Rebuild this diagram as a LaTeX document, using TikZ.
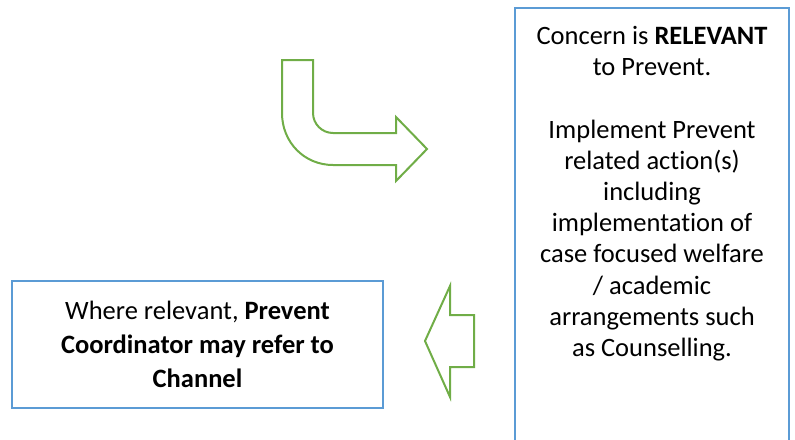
\documentclass[tikz,border=0pt]{standalone}
\usepackage{fontspec}
\setmainfont[Ligatures=NoCommon]{Carlito}
\usetikzlibrary{positioning}
\definecolor{boxblue}{RGB}{91,155,213}
\definecolor{arrowgreen}{RGB}{112,173,71}

\begin{document}
\begin{tikzpicture}[x=1pt, y=-1pt,
    every node/.style={font=\fontsize{26.5}{31.2}\selectfont},
    infobox/.style={rectangle, draw=boxblue, line width=1.5pt, align=center, minimum width=371pt, minimum height=127pt, inner sep=0pt},
    infotext/.style={align=center, inner sep=0pt},
    frame/.style={draw=boxblue, line width=1.5pt},
    blockarrow/.style={draw=arrowgreen, line width=2pt, line join=miter}
]
\clip (0,0) rectangle (795,439);

\node[infotext, anchor=north] (relevant) at (652,26) {Concern is \textbf{RELEVANT}\\ to Prevent.\\[31.2pt]
Implement Prevent\\ related action(s)\\ including\\ implementation of\\ case focused welfare\\ / academic\\ arrangements such\\ as Counselling.};
\draw[frame] (515,8) rectangle (789,470);

\node[infobox, font=\fontsize{26.5}{34}\selectfont] (channel) at (197.5,344.5) {Where relevant, \textbf{Prevent}\\ \textbf{Coordinator may refer to}\\ \textbf{Channel}};

\draw[blockarrow] (282,60) -- (313,60) -- (313,113) .. controls (313,124) and (322,133) .. (333,133) -- (396,133) -- (396,117) -- (427,149) -- (396,181) -- (396,165) -- (333,165) .. controls (304.5,165) and (282,142.5) .. (282,113) -- cycle;

\draw[blockarrow] (425,341) -- (450,286) -- (450,315) -- (474,315) -- (474,367) -- (450,367) -- (450,397) -- cycle;

\end{tikzpicture}
\end{document}
